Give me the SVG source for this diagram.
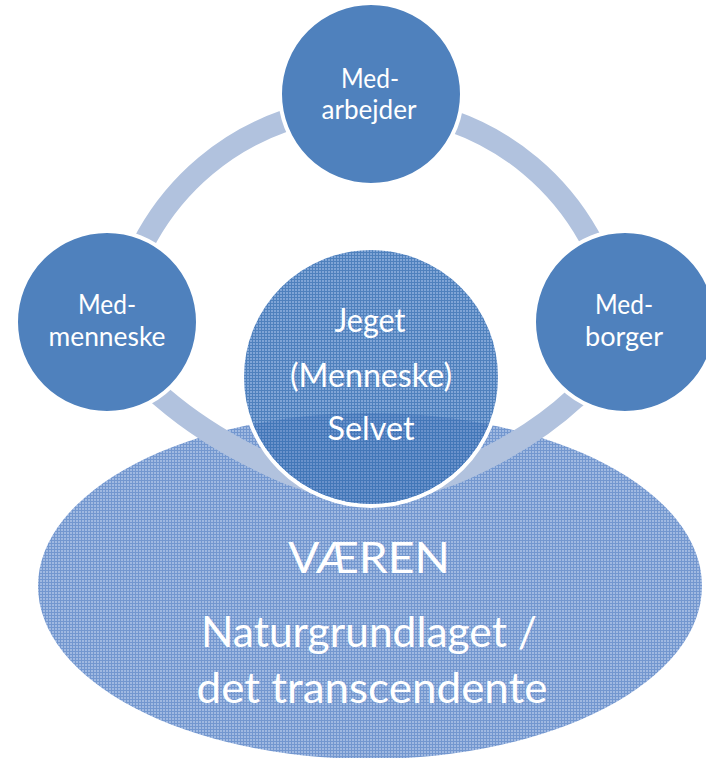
<svg xmlns="http://www.w3.org/2000/svg" width="706" height="758" viewBox="0 0 706 758">
  <defs>
    <pattern id="patE" width="3" height="3" patternUnits="userSpaceOnUse">
      <rect width="3" height="3" fill="#a0b9e1"/>
      <rect width="3" height="1" fill="#7397cf"/>
      <rect width="1" height="3" fill="#7397cf"/>
    </pattern>
    <pattern id="patC" width="3" height="3" patternUnits="userSpaceOnUse">
      <rect width="3" height="3" fill="#80a5d6"/>
      <rect width="3" height="1" fill="#4f81bd"/>
      <rect width="1" height="3" fill="#4f81bd"/>
    </pattern>
    <pattern id="patD" width="3" height="3" patternUnits="userSpaceOnUse">
      <rect width="3" height="3" fill="#6a92cb"/>
      <rect width="3" height="1" fill="#4377b8"/>
      <rect width="1" height="3" fill="#4377b8"/>
    </pattern>
    <clipPath id="clipC">
      <circle cx="371" cy="377" r="127"/>
    </clipPath>
  </defs>
  <style>
    .ring{fill:none;stroke:#b1c2de;stroke-width:22;stroke-linejoin:round}
    .node{fill:#4f81bd;stroke:#ffffff;stroke-width:4}
    .t{font-family:Lato,"Open Sans","Liberation Sans",sans-serif;fill:#ffffff;text-anchor:middle}
    .s27{font-size:27px}
    .s32{font-size:32px}
    .s43{font-size:43px}
  </style>

  <g id="vaeren">
    <ellipse cx="370" cy="586" rx="332" ry="173" fill="url(#patE)"/>
  </g>

  <g id="connectors">
    <path class="ring" d="M118.8,316.1 A253,253 0 0 1 617.2,316.1"/>
    <path class="ring" d="M132,372 L163,398 Q213,441 287,473 L330,488"/>
    <path class="ring" d="M606,372 L575,398 Q529,441 455,473 L412,488"/>
  </g>

  <g id="jeget">
    <circle cx="371" cy="377" r="129" fill="url(#patC)" stroke="#ffffff" stroke-width="4"/>
    <ellipse cx="370" cy="586" rx="332" ry="173" fill="url(#patD)" clip-path="url(#clipC)"/>
    <text class="t s32" x="370" y="332" textLength="71" lengthAdjust="spacingAndGlyphs">Jeget</text>
    <text class="t s32" x="371" y="387" textLength="162" lengthAdjust="spacingAndGlyphs">(Menneske)</text>
    <text class="t s32" x="371" y="440" textLength="87" lengthAdjust="spacingAndGlyphs">Selvet</text>
  </g>

  <g id="medarbejder">
    <circle class="node" cx="371" cy="94" r="91"/>
    <text class="t s27" x="370" y="88" textLength="58" lengthAdjust="spacingAndGlyphs">Med-</text>
    <text class="t s27" x="369" y="119" textLength="95" lengthAdjust="spacingAndGlyphs">arbejder</text>
  </g>

  <g id="medmenneske">
    <circle class="node" cx="107" cy="322" r="91"/>
    <text class="t s27" x="107" y="314" textLength="58" lengthAdjust="spacingAndGlyphs">Med-</text>
    <text class="t s27" x="107" y="346" textLength="117" lengthAdjust="spacingAndGlyphs">menneske</text>
  </g>

  <g id="medborger">
    <circle class="node" cx="625" cy="322" r="91"/>
    <text class="t s27" x="624" y="314" textLength="58" lengthAdjust="spacingAndGlyphs">Med-</text>
    <text class="t s27" x="624" y="346" textLength="78" lengthAdjust="spacingAndGlyphs">borger</text>
  </g>

  <g id="vaeren-text">
    <text class="t s43" x="369" y="573" textLength="162" lengthAdjust="spacingAndGlyphs">VÆREN</text>
    <text class="t s43" x="369" y="647" textLength="336" lengthAdjust="spacingAndGlyphs">Naturgrundlaget /</text>
    <text class="t s43" x="372" y="703" textLength="351" lengthAdjust="spacingAndGlyphs">det transcendente</text>
  </g>
</svg>
